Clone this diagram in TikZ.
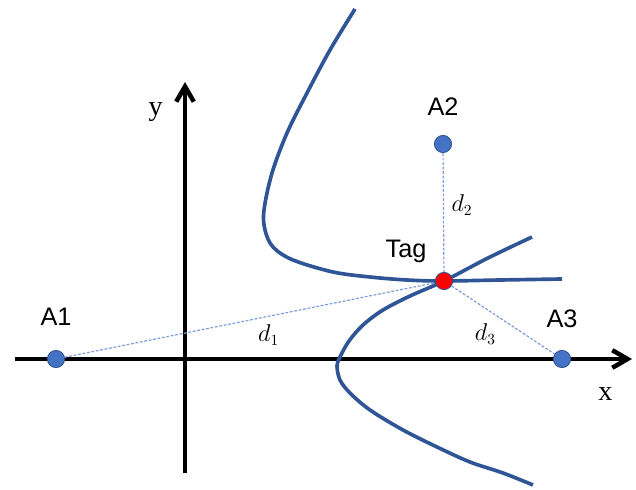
\documentclass[tikz,border=0pt]{standalone}
\usepackage{fontspec}
\newfontfamily\labelsans{Liberation Sans}
\newfontfamily\labelserif{Liberation Serif}
\usetikzlibrary{positioning, arrows.meta}
\definecolor{curveblue}{HTML}{2F5597}
\definecolor{dotblue}{HTML}{4472C4}
\definecolor{dotedge}{HTML}{2F528F}
\definecolor{dashblue}{HTML}{7C9DDA}
\tikzset{
    axisline/.style={line width=3.2pt, -{Straight Barb[length=3.8mm, width=4.4mm]}}, % black axes with open heads
    beacon/.style={circle, fill=dotblue, draw=dotedge, line width=0.6pt, minimum size=0.43cm, inner sep=0pt}, % the fixed anchors
    tagdot/.style={beacon, fill=red}, % the tag to be located
    hyp/.style={draw=curveblue, line width=2.6pt}, % hyperbola branches
    dist/.style={draw=dashblue, line width=0.85pt, dash pattern=on 2pt off 1.2pt}, % distance lines
    lbl/.style={font=\labelsans\fontsize{18}{20}\selectfont, inner sep=0pt},
    dlabel/.style={font=\fontsize{16}{18}\selectfont},
    axlabel/.style={font=\labelserif\fontsize{20}{22}\selectfont, inner sep=0pt}
}

\begin{document}
\begin{tikzpicture}[x=0.025cm, y=-0.025cm]
    \useasboundingbox (0,0) rectangle (636,490);

    % axes
    \coordinate (xl) at (15,359);
    \coordinate (xr) at (632,359);
    \coordinate (yb) at (185,473);
    \coordinate (yt) at (185,82);
    \draw[axisline] (xl) -- (xr);
    \draw[axisline] (yb) -- (yt);
    \node[axlabel] (xlab) [below left = 0.72cm and 0.48cm of xr] {x};
    \node[axlabel] (ylab) [below left = 0.51cm and 0.55cm of yt] {y};

    % hyperbola branches through the tag
    \coordinate (T) at (444,281);
    \draw[hyp] plot[smooth, tension=.55] coordinates {(355,9) (330,50) (307,93) (287,133) (272,173) (264,210) (265,230) (273,247) (293,260) (333,272) (370,277) (407,280) (T) (500,280) (562,279)};
    \draw[hyp] plot[smooth, tension=.55] coordinates {(532,237) (488,258) (T) (410,296) (383,310) (363,325) (349,341) (340,357) (337,366) (340,380) (350,393) (370,410) (403,430) (437,447) (470,462) (503,473) (533,485)};

    \node[beacon] (A1) at (56,359) {};
    \node[beacon] (A2) at (443,144) {};
    \node[beacon] (A3) at (562,359) {};
    \node[tagdot] (tag) at (T) {};

    \node[lbl] (A1lab) [above = 0.6cm of A1] {A1};
    \node[lbl] (A2lab) [above = 0.48cm of A2] {A2};
    \node[lbl] (A3lab) [above = 0.55cm of A3] {A3};
    \node[lbl] (taglab) [above left = 0.29cm and 0.27cm of tag] {Tag};

    \draw[dist] (A1) -- node[dlabel, below=2.5pt, pos=.55] {$d_1$} (tag);
    \draw[dist] (A2) -- node[dlabel, right=2pt, pos=.44] {$d_2$} (tag);
    \draw[dist] (tag) -- node[dlabel, below left, pos=.48] {$d_3$} (A3);
\end{tikzpicture}
\end{document}
